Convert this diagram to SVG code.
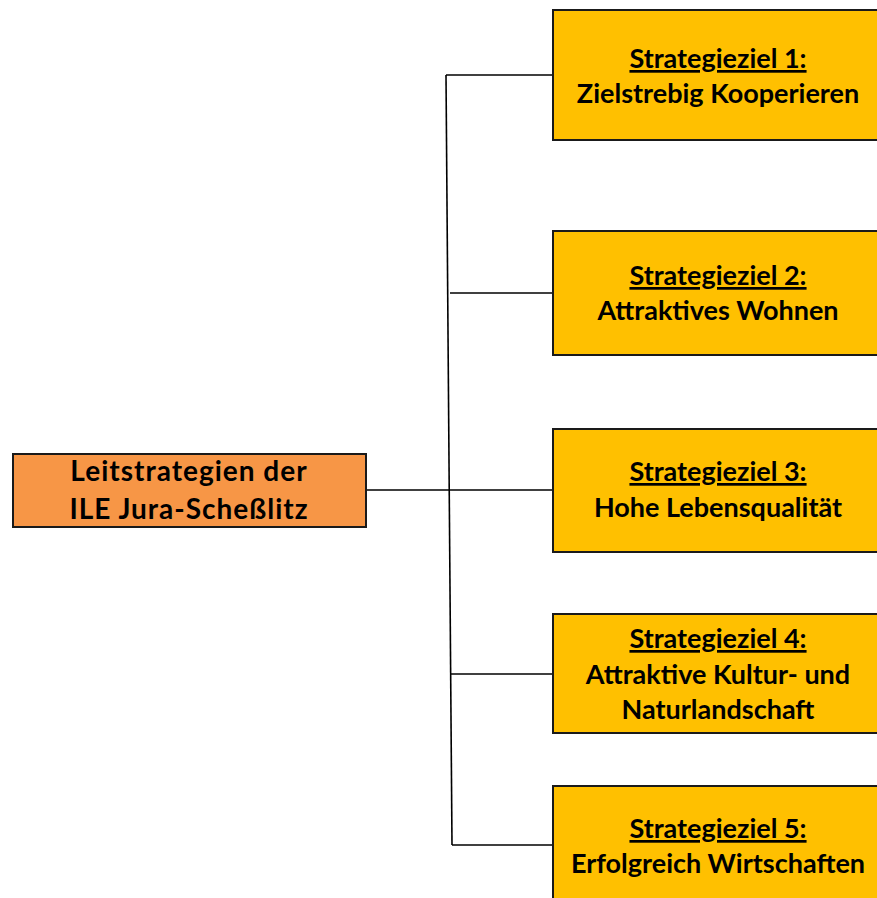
<svg xmlns="http://www.w3.org/2000/svg" width="877" height="898" viewBox="0 0 877 898">
<style>
.goal{fill:#FFC000;stroke:#1a1a1a;stroke-width:2}
.root{fill:#F79646;stroke:#1a1a1a;stroke-width:2}
.t{font-family:Lato,"Open Sans","Liberation Sans",sans-serif;font-weight:bold;font-size:27px;fill:#000;text-anchor:middle}
.r{font-size:28px;letter-spacing:1px}
.u{text-decoration:underline}
.c{fill:none;stroke:#000;stroke-width:1.6}
</style>
<rect width="877" height="898" fill="#fff"/>
<g id="connectors">
<path class="c" d="M446,75 L452,845"/>
<path class="c" d="M446,75 H553"/>
<path class="c" d="M450,293 H553"/>
<path class="c" d="M366,490 H553"/>
<path class="c" d="M451,674 H553"/>
<path class="c" d="M452,845 H553"/>
</g>
<g id="root">
<rect class="root" x="13" y="454" width="353" height="73"/>
<text class="t r" x="189" y="481">Leitstrategien der</text>
<text class="t r" x="189" y="519">ILE Jura-Scheßlitz</text>
</g>
<g id="goal1">
<rect class="goal" x="553" y="10" width="330" height="130"/>
<text class="t u" x="718" y="68">Strategieziel 1:</text>
<text class="t" x="718" y="103">Zielstrebig Kooperieren</text>
</g>
<g id="goal2">
<rect class="goal" x="553" y="231" width="330" height="124"/>
<text class="t u" x="718" y="285">Strategieziel 2:</text>
<text class="t" x="718" y="320">Attraktives Wohnen</text>
</g>
<g id="goal3">
<rect class="goal" x="553" y="429" width="330" height="123"/>
<text class="t u" x="718" y="481">Strategieziel 3:</text>
<text class="t" x="718" y="517">Hohe Lebensqualität</text>
</g>
<g id="goal4">
<rect class="goal" x="553" y="614" width="330" height="119"/>
<text class="t u" x="718" y="648">Strategieziel 4:</text>
<text class="t" x="718" y="684">Attraktive Kultur- und</text>
<text class="t" x="718" y="719">Naturlandschaft</text>
</g>
<g id="goal5">
<rect class="goal" x="553" y="786" width="330" height="130"/>
<text class="t u" x="718" y="838">Strategieziel 5:</text>
<text class="t" x="718" y="873">Erfolgreich Wirtschaften</text>
</g>
</svg>
